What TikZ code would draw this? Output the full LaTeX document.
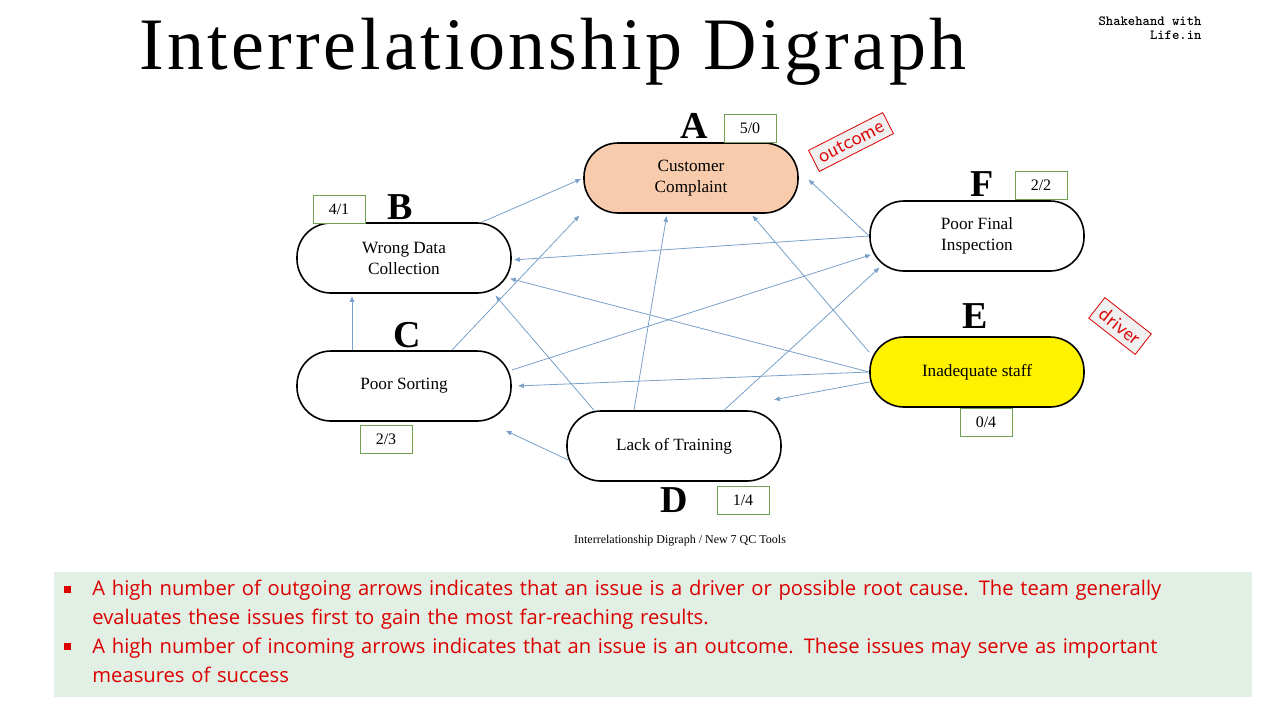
\documentclass[tikz,border=0pt]{standalone}
\usepackage{fontspec}
\setmainfont{Liberation Serif}
\newfontfamily\bodyfont{Open Sans}
\usetikzlibrary{arrows.meta}
\definecolor{edgeblue}{RGB}{120,160,200}
\definecolor{salmon}{RGB}{247,203,172}
\definecolor{boxgreen}{RGB}{112,160,80}
\definecolor{notebg}{RGB}{226,239,228}
\definecolor{notered}{RGB}{220,0,0}
\newcommand\notebullet{\noindent\hangindent=14pt\hangafter=1\makebox[14pt][l]{\rule[1.5pt]{3.5pt}{3.5pt}}}
\tikzset{
  issue/.style={draw, thick, rounded corners=17pt, minimum width=107pt, minimum height=35pt,
    align=center, font=\fontsize{8.6}{10.5}\selectfont},
  count/.style={draw=boxgreen, fill=white, minimum width=26pt, minimum height=14pt,
    inner sep=1pt, font=\fontsize{8}{9}\selectfont},
  letter/.style={font=\bfseries\fontsize{19}{19}\selectfont},
  link/.style={edgeblue, -{Latex[length=3pt,width=2.5pt]}, shorten >=1pt},
  tag/.style={draw=notered, fill=gray!12, text=notered, font=\sffamily\fontsize{10}{10}\selectfont, inner sep=3pt}
}
\begin{document}
\begin{tikzpicture}[x=0.5pt, y=-0.5pt]
    \useasboundingbox (0,0) rectangle (1280,720);
    % Title and logo
    \node (title) at (553,52) {\fontsize{37}{40}\selectfont\addfontfeatures{LetterSpace=4.5} Interrelationship Digraph};
    \node[font=\bfseries\ttfamily\fontsize{7}{7}\selectfont, align=right] (logo) at (1150,28) {Shakehand with\\ Life.in};
    
    % Issues
    \node[issue, fill=salmon] (A) at (691,178) {Customer\\Complaint};
    \node[issue] (B) at (404,258) {Wrong Data\\Collection};
    \node[issue] (C) at (404,386) {Poor Sorting};
    \node[issue] (D) at (674,446) {Lack of Training};
    \node[issue, fill=yellow] (E) at (977,372) {Inadequate staff};
    \node[issue] (F) at (977,236) {Poor Final\\Inspection};
    
    % Letters and in/out counts
    \node[letter] (lA) at (694,126) {A};
    \node[letter] (lB) at (400,207) {B};
    \node[letter] (lC) at (407,335) {C};
    \node[letter] (lD) at (674,500) {D};
    \node[letter] (lE) at (975,316) {E};
    \node[letter] (lF) at (982,184) {F};
    \node[count] (nA) at (750,128) {5/0};
    \node[count] (nB) at (339,209) {4/1};
    \node[count] (nC) at (386,439) {2/3};
    \node[count] (nD) at (743,500) {1/4};
    \node[count] (nE) at (986,422) {0/4};
    \node[count] (nF) at (1041,185) {2/2};
    
    % Arrows
    \draw[link] ([xshift=-15pt]B.north east) -- (A.west);
    \draw[link] ([xshift=-30pt]C.north east) -- ([xshift=-55pt]A.south);
    \draw[link] ([xshift=-20pt]D.north) -- ([xshift=-12pt]A.south);
    \draw[link] (F.west) -- ([xshift=4pt]A.east);
    \draw[link] ([yshift=-8pt]E.north west) -- ([xshift=30pt]A.south);
    \draw[link] (F.west) -- ([yshift=-1pt]B.east);
    \draw[link] (E.west) -- ([yshift=-10pt,xshift=-2pt]B.east);
    \draw[link] ([xshift=-40pt]D.north) -- ([xshift=45pt]B.south);
    \draw[link] ([xshift=-26pt]C.north) -- ([xshift=-26pt]B.south);
    \draw[link] ([yshift=8pt]C.east) -- ([yshift=-9pt,xshift=2pt]F.west);
    \draw[link] (E.west) -- ([xshift=2pt]C.east);
    \draw[link] ([xshift=1pt,yshift=-7pt]D.west) -- ([xshift=-4pt,yshift=-4pt]C.south east);
    \draw[link] ([xshift=25pt]D.north) -- ([yshift=-15pt,xshift=6pt]F.west);
    \draw[link] ([yshift=-5pt]E.west) -- ([xshift=-5pt,yshift=5pt]D.north east);
    
    % Tags
    \node[tag, rotate=27] (outcome) at (851,142) {outcome};
    \node[tag, rotate=-38] (driver) at (1120,326) {driver};
    
    % Caption
    \node[font=\fontsize{6}{6}\selectfont] (caption) at (680,541) {Interrelationship Digraph / New 7 QC Tools};
    
    % Notes
    \fill[notebg] (54,572) rectangle (1252,697);
    \node[anchor=north west, text width=570pt, text=notered, font=\bodyfont\fontsize{10.1}{14.4}\selectfont,
      inner sep=0pt, align=left] (notes) at (64,580) {%
      \hyphenpenalty=10000\exhyphenpenalty=10000
      \notebullet A high number of outgoing arrows indicates that an issue is a driver or possible root cause. The team generally evaluates these issues first to gain the most far-reaching results.\par
      \notebullet A high number of incoming arrows indicates that an issue is an outcome. These issues may serve as important measures of success\par};
\end{tikzpicture}
\end{document}
